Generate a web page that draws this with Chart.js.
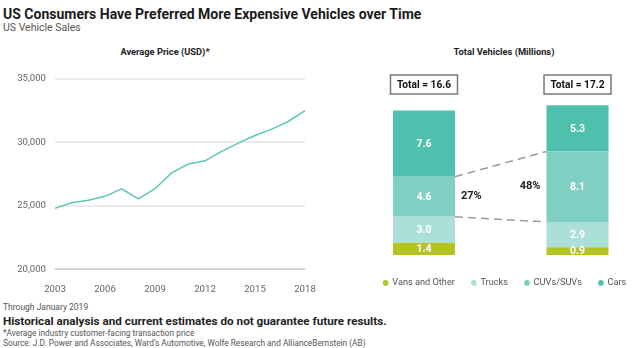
<!DOCTYPE html>
<html><head><meta charset="utf-8">
<script src="https://cdn.jsdelivr.net/npm/chart.js@4/dist/chart.umd.min.js"></script>
<style>
html,body{margin:0;overflow:hidden;}
body{width:640px;height:348px;background:#fff;position:relative;font-family:Roboto,sans-serif;}
.abs{position:absolute;white-space:nowrap;line-height:1;}
canvas{position:absolute;}
</style></head><body>
<div class="abs" style="left:3px;top:5.5px;font:bold 14px Roboto;color:#1a1a1a">US Consumers Have Preferred More Expensive Vehicles over Time</div>
<div class="abs" style="left:3px;top:21px;font:10.5px Roboto;color:#555">US Vehicle Sales</div>
<div class="abs" style="left:0;width:330px;text-align:center;top:46px;font:bold 9.3px Roboto;color:#222">Average Price (USD)*</div>
<div class="abs" style="left:404px;width:200px;text-align:center;top:46px;font:bold 9.3px Roboto;color:#222">Total Vehicles (Millions)</div>
<canvas id="left" width="330" height="260" style="left:0;top:40px;width:330px;height:260px"></canvas>
<canvas id="right" width="360" height="260" style="left:330px;top:40px;width:360px;height:260px"></canvas>
<div class="abs" style="left:3px;top:302.2px;font:8.5px Roboto;color:#555">Through January 2019</div>
<div class="abs" style="left:3px;top:313.5px;font:bold 11.7px Roboto;color:#222">Historical analysis and current estimates do not guarantee future results.</div>
<div class="abs" style="left:3px;top:327.6px;font:8.3px Roboto;color:#555">*Average industry customer-facing transaction price</div>
<div class="abs" style="left:3px;top:337.6px;font:8.3px Roboto;color:#555">Source: J.D. Power and Associates, Ward's Automotive, Wolfe Research and AllianceBernstein (AB)</div>
<script>
const years = ['2003','2004','2005','2006','2007','2008','2009','2010','2011','2012','2013','2014','2015','2016','2017','2018'];
const avgPrice = [24800,25250,25450,25750,26350,25550,26350,27600,28300,28550,29300,29950,30550,31050,31650,32500];
const priceTicks = [20000,25000,30000,35000];
const barYears = ['2003','2018'];
const vans = [1.4,0.9];
const trucks = [3.0,2.9];
const cuvs = [4.6,8.1];
const cars = [7.6,5.3];
const totals = ['16.6','17.2'];
const shareLabels = ['27%','48%'];
const seriesNames = ['Vans and Other','Trucks','CUVs/SUVs','Cars'];
const seriesColors = ['#b3c424','#aae0d9','#7fcfc2','#4fbfae'];

const tickFont = {family:'Roboto', size:9.6};
new Chart(document.getElementById('left'), {
  type:'line',
  data:{labels:years, datasets:[{data:avgPrice, borderColor:'#5cc7b4', borderWidth:1.5, pointRadius:0, tension:0, fill:false}]},
  options:{
    responsive:false, animation:false,
    layout:{padding:{top:39,right:25,left:0,bottom:0}},
    plugins:{legend:{display:false}, tooltip:{enabled:false}},
    scales:{
      x:{grid:{display:false}, border:{display:false},
         afterFit:(a)=>{a.height=30.7;},
         ticks:{autoSkip:false, maxRotation:0, padding:6.5, color:'#666', font:tickFont,
           callback:function(v,i){return (i%3===0)?years[i]:'';}}},
      y:{min:20000,max:35000, afterFit:(a)=>{a.width=55;},
         afterBuildTicks:(a)=>{a.ticks=priceTicks.map(v=>({value:v}));},
         grid:{color:(ctx)=>ctx.tick&&ctx.tick.value===20000?'#d4d4d4':'#ebebeb', lineWidth:2, drawTicks:false},
         border:{display:false},
         ticks:{padding:9, color:'#666', font:tickFont, callback:(v)=>v.toLocaleString('en-US')}}
    }
  }
});

const cats = [barYears[0], '', barYears[1]];
const spread = (arr)=>[arr[0], null, arr[1]];
const seriesData = [vans, trucks, cuvs, cars];
const rightPlugin = {
  id:'annot',
  afterDatasetsDraw(chart){
    const ctx = chart.ctx, ca = chart.chartArea;
    ctx.save();
    ctx.font = 'bold 10.5px Roboto'; ctx.fillStyle='#fff'; ctx.textAlign='center'; ctx.textBaseline='middle';
    seriesData.forEach((arr, di)=>{
      const meta = chart.getDatasetMeta(di);
      [0,2].forEach((j,k)=>{
        const el = meta.data[j];
        ctx.fillText(arr[k].toFixed(1), el.x, (el.y+el.base)/2+0.5);
      });
    });
    const cm = chart.getDatasetMeta(2);
    const a = cm.data[0], b = cm.data[2];
    ctx.strokeStyle='#9a9a9a'; ctx.lineWidth=1.5; ctx.setLineDash([8,5]);
    ctx.beginPath();
    ctx.moveTo(a.x + a.width/2, a.y); ctx.lineTo(b.x - b.width/2, b.y);
    ctx.moveTo(a.x + a.width/2, a.base); ctx.lineTo(b.x - b.width/2, b.base);
    ctx.stroke();
    ctx.setLineDash([]);
    ctx.fillStyle='#222'; ctx.font='bold 11px Roboto';
    ctx.textAlign='left'; ctx.fillText(shareLabels[0], a.x + a.width/2 + 6, (a.y+a.base)/2);
    ctx.textAlign='right'; ctx.fillText(shareLabels[1], b.x - b.width/2 - 6, (b.y+b.base)/2);
    [a,b].forEach((el,k)=>{
      const w=67,h=19, x=el.x-w/2, y=ca.top-6;
      ctx.fillStyle='#fff'; ctx.fillRect(x,y,w,h);
      ctx.strokeStyle='#777'; ctx.lineWidth=1.5; ctx.strokeRect(x,y,w,h);
      ctx.fillStyle='#111'; ctx.textAlign='center'; ctx.font='bold 10.2px Roboto';
      ctx.fillText('Total = '+totals[k], el.x, y+h/2+0.5);
    });
    ctx.restore();
  }
};
new Chart(document.getElementById('right'), {
  type:'bar',
  data:{labels:cats, datasets: seriesData.map((arr,i)=>({label:seriesNames[i], data:spread(arr), backgroundColor:seriesColors[i], borderWidth:0, categoryPercentage:1, barPercentage:0.808}))},
  options:{
    responsive:false, animation:false,
    layout:{padding:{top:41,right:10,left:0,bottom:2.5}},
    plugins:{tooltip:{enabled:false},
      legend:{position:'bottom', labels:{usePointStyle:true, pointStyle:'circle', boxWidth:4, boxHeight:4, padding:17, color:'#555', font:{family:'Roboto',size:9.2}}}},
    scales:{
      x:{stacked:true, grid:{display:false}, border:{display:false}, afterFit:(a)=>{a.height=6.3;},
         ticks:{padding:5.3, color:'#666', font:tickFont}},
      y:{stacked:true, min:0, max:20, afterFit:(a)=>{a.width=55.6;}, grid:{display:false}, border:{display:false}, ticks:{display:false}},
      y2:{position:'right', afterFit:(a)=>{a.width=64.1;}, grid:{display:false}, border:{display:false}, ticks:{display:false}}
    }
  },
  plugins:[rightPlugin]
});
</script>
</body></html>
